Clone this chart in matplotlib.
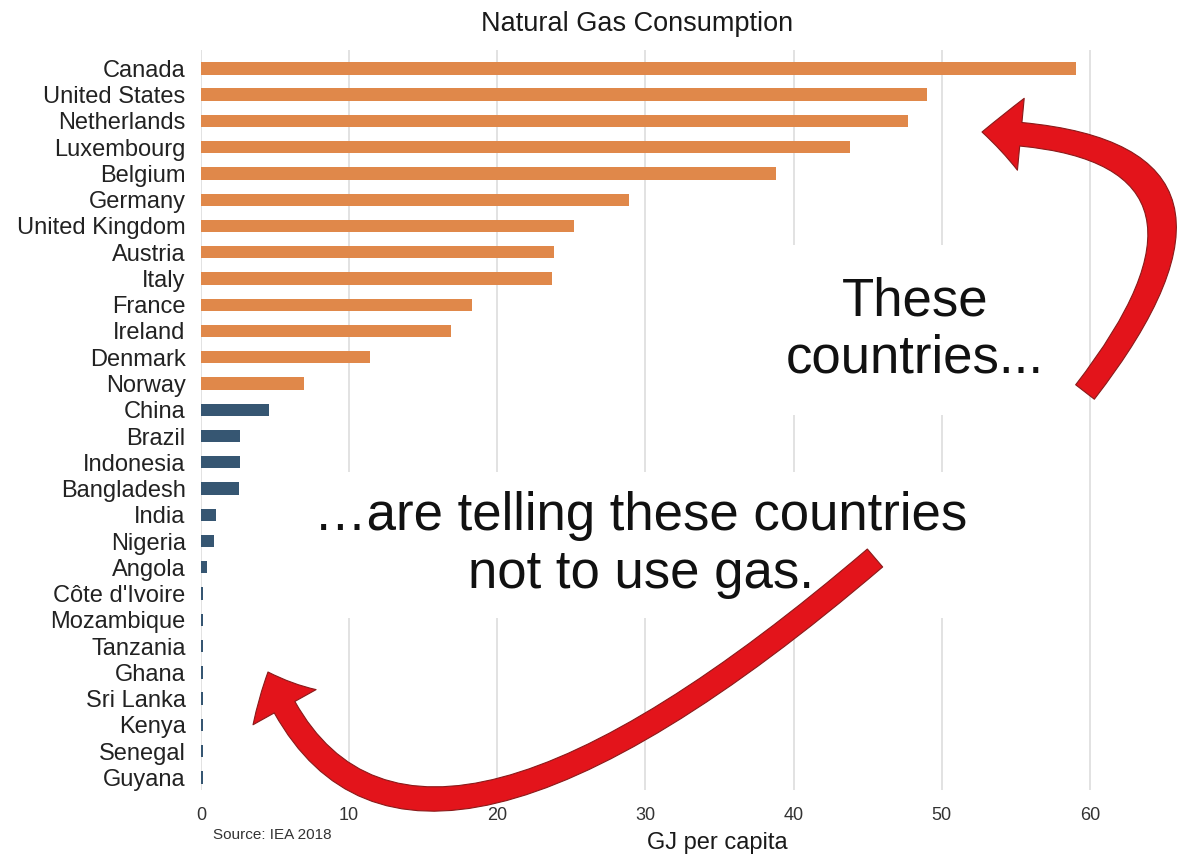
import matplotlib
matplotlib.use('Agg')
import matplotlib.pyplot as plt
from matplotlib.patches import FancyArrowPatch, ArrowStyle
from matplotlib.path import Path

# Data (GJ per capita, IEA 2018)
rich = ['Canada', 'United States', 'Netherlands', 'Luxembourg', 'Belgium', 'Germany',
        'United Kingdom', 'Austria', 'Italy', 'France', 'Ireland', 'Denmark', 'Norway']
rich_vals = [59.1, 49.0, 47.7, 43.8, 38.8, 28.9, 25.2, 23.8, 23.7, 18.3, 16.9, 11.4, 6.95]
poor = ['China', 'Brazil', 'Indonesia', 'Bangladesh', 'India', 'Nigeria', 'Angola',
        "Côte d'Ivoire", 'Mozambique', 'Tanzania', 'Ghana', 'Sri Lanka', 'Kenya',
        'Senegal', 'Guyana']
poor_vals = [4.6, 2.6, 2.6, 2.55, 1.0, 0.85, 0.38, 0.15, 0.15, 0.15, 0.15, 0.15, 0.15,
             0.15, 0.15]
xticks = [0, 10, 20, 30, 40, 50, 60]

orange = '#E0884A'
blue = '#365672'
sans = ['Liberation Sans', 'DejaVu Sans']
narrow = ['Liberation Sans Narrow', 'Liberation Sans', 'DejaVu Sans']

fig = plt.figure(figsize=(11.79, 8.55), dpi=100)
W, H = 1179, 855
ax = fig.add_axes([201 / W, 65 / H, 911 / W, 740 / H])

countries = rich + poor
pos = list(range(len(countries)))
ax.barh(pos[:len(rich)], rich_vals, height=0.47, color=orange, zorder=2)
ax.barh(pos[len(rich):], poor_vals, height=0.47, color=blue, zorder=2)

ax.set_xlim(0, 61.5)
ax.set_ylim(len(countries) - 1 + 0.48, -0.7)
ax.set_yticks(pos)
ax.set_yticklabels(countries, family=sans, fontsize=17, color='#222222')
ax.set_xticks(xticks)
ax.set_xticklabels([str(t) for t in xticks], family=narrow, fontsize=13, color='#333333')
ax.tick_params(axis='both', length=0)
ax.tick_params(axis='y', pad=11)
ax.tick_params(axis='x', pad=12)
for s in ax.spines.values():
    s.set_visible(False)
ax.xaxis.grid(True, color='#dddddd', linewidth=1.2, zorder=0)
ax.set_axisbelow(True)

fig.text(637 / W, 1 - 24 / H, 'Natural Gas Consumption', ha='center', va='center',
         family=sans, fontsize=19.5, color='#1a1a1a')
fig.text(717 / W, 1 - 843 / H, 'GJ per capita', ha='center', va='center',
         family=sans, fontsize=17, color='#1a1a1a')
fig.text(213 / W, 1 - 835 / H, 'Source: IEA 2018', ha='left', va='center',
         family=narrow, fontsize=11, color='#333333')

# overlay in pixel coordinates for the annotations
ov = fig.add_axes([0, 0, 1, 1], zorder=5)
ov.set_xlim(0, W)
ov.set_ylim(H, 0)
ov.axis('off')
ov.patch.set_alpha(0)

ov.text(915, 330, 'These\ncountries...', ha='center', va='center', family=sans,
        fontsize=38, linespacing=1.2, color='#111111',
        bbox=dict(facecolor='white', edgecolor='none', pad=22), zorder=3)
ov.text(641, 545, '\u2026are telling these countries\nnot to use gas.', ha='center',
        va='center', family=sans, fontsize=38, linespacing=1.2, color='#111111',
        bbox=dict(facecolor='white', edgecolor='none', pad=14), zorder=3)

style = ArrowStyle.Simple(head_length=28, head_width=52, tail_width=17)
arrows = [
    [(1085, 392), (1280, 140), (982, 132)],
    [(875, 558), (388, 974), (268, 672)],
]
for pts in arrows:
    p = Path(pts, [Path.MOVETO, Path.CURVE3, Path.CURVE3])
    ov.add_patch(FancyArrowPatch(path=p, arrowstyle=style, mutation_scale=1,
                                 facecolor='#e3141b', edgecolor='#8a1a1a',
                                 linewidth=0.8, transform=ov.transData, zorder=4))

fig.savefig('out.png', dpi=100)
